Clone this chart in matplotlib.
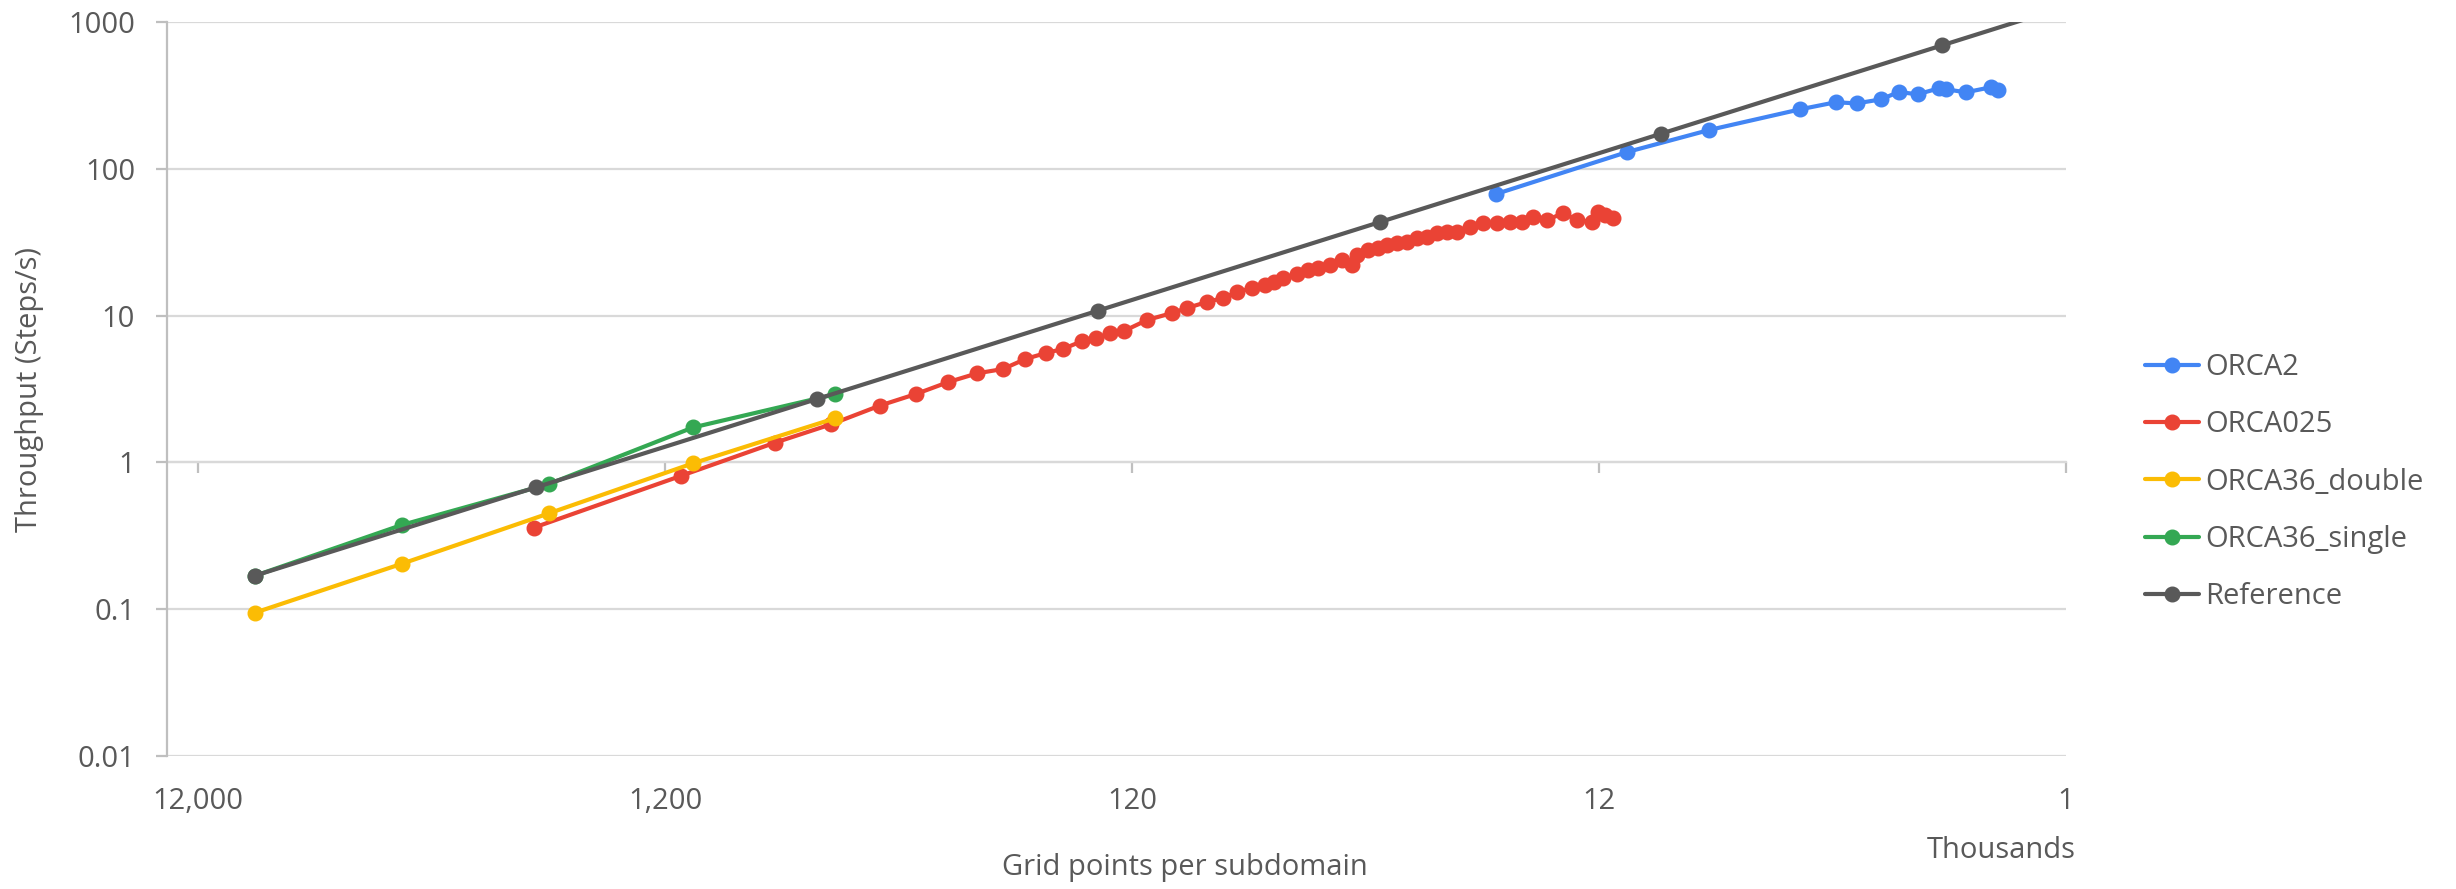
import matplotlib
matplotlib.use("Agg")
import matplotlib.pyplot as plt
from matplotlib.ticker import FixedLocator, FixedFormatter, NullLocator

plt.rcParams['font.family'] = ['Open Sans', 'DejaVu Sans']

# grid points per subdomain (thousands) and throughput (steps/s)
orca2_x = [19.95, 10.44, 6.97, 4.456, 3.736, 3.37, 2.99, 2.738, 2.494, 2.248, 2.169, 1.965, 1.74, 1.676]
orca2_y = [67.3, 130.1, 183.8, 254, 284, 279, 297, 333.5, 321.8, 353, 348, 332, 359, 344]

orca025_x = [2293, 1111, 697.8, 529.2, 416.6, 348.0, 296.6, 257.3, 226.7, 202.9,
             183.4, 168.8, 153.8, 143.3, 133.8, 124.8, 111.4, 98.5, 91.5, 82.9,
             76.6, 71.5, 66.4, 62.3, 59.6, 57.0, 53.2, 50.4, 48.0, 45.2,
             42.6, 40.6, 39.6, 37.5, 35.7, 34.1, 32.5, 30.9, 29.4, 28.0,
             26.7, 25.4, 24.2, 22.7, 21.3, 19.8, 18.6, 17.5, 16.6, 15.5,
             14.3, 13.4, 12.4, 12.06, 11.65, 11.2]
orca025_y = [0.359, 0.808, 1.362, 1.817, 2.433, 2.924, 3.529, 4.045, 4.327, 5.063,
             5.563, 5.922, 6.681, 7.004, 7.575, 7.856, 9.333, 10.41, 11.27, 12.38,
             13.18, 14.48, 15.42, 16.16, 16.94, 18.04, 19.20, 20.45, 21.10, 22.12,
             23.91, 22.12, 25.87, 27.98, 28.87, 30.26, 31.23, 31.72, 33.78, 34.31,
             36.53, 37.11, 37.1, 40.13, 42.73, 42.7, 43.4, 43.4, 46.96, 44.8,
             50.0, 44.8, 43.4, 50.8, 48.4, 46.2]

orca36_double_x = [9060, 4390, 2126, 1045, 519]
orca36_double_y = [0.0947, 0.204, 0.450, 0.986, 1.996]

orca36_single_x = [9060, 4390, 2126, 1045, 519]
orca36_single_y = [0.169, 0.375, 0.713, 1.73, 2.91]

reference_x = [9060, 2265, 566, 141.6, 35.4, 8.85, 2.21, 0.553]
reference_y = [0.1692, 0.677, 2.708, 10.83, 43.3, 173.2, 693.7, 2772]

series_names = ["ORCA2", "ORCA025", "ORCA36_double", "ORCA36_single", "Reference"]
series_colors = ["#4285F4", "#EA4335", "#FBBC04", "#34A853", "#595959"]

x_ticks = [12000, 1200, 120, 12, 1.2]
x_tick_labels = ["12,000", "1,200", "120", "12", "1"]
y_ticks = [0.01, 0.1, 1, 10, 100, 1000]
y_tick_labels = ["0.01", "0.1", "1", "10", "100", "1000"]

TEXT = "#595959"
GRID = "#D9D9D9"
AXIS = "#BFBFBF"
FS = 21

W, H = 2456, 889
fig = plt.figure(figsize=(W / 100, H / 100), dpi=100)
ax = fig.add_axes([167 / W, 1 - 756 / H, (2066 - 167) / W, (756 - 22) / H])

all_x = [orca2_x, orca025_x, orca36_double_x, orca36_single_x, reference_x]
all_y = [orca2_y, orca025_y, orca36_double_y, orca36_single_y, reference_y]
for xs, ys, name, col in zip(all_x, all_y, series_names, series_colors):
    ax.plot(xs, ys, color=col, lw=3.0, marker="o", ms=10.5, mec=col, mfc=col,
            label=name, solid_capstyle="round")

ax.set_xscale("log")
ax.set_yscale("log")
ax.set_xlim(13980, 1.2)
ax.set_ylim(0.01, 1000)

ax.xaxis.set_major_locator(FixedLocator(x_ticks))
ax.xaxis.set_major_formatter(FixedFormatter(x_tick_labels))
ax.xaxis.set_minor_locator(NullLocator())
ax.yaxis.set_major_locator(FixedLocator(y_ticks))
ax.yaxis.set_major_formatter(FixedFormatter(y_tick_labels))
ax.yaxis.set_minor_locator(NullLocator())

ax.grid(axis="y", color=GRID, lw=1.6)
ax.set_axisbelow(True)
for s in ["top", "right", "bottom"]:
    ax.spines[s].set_visible(False)
ax.spines["left"].set_color(AXIS)
ax.spines["left"].set_linewidth(1.6)

ax.tick_params(axis="x", length=0, pad=22, labelsize=FS, labelcolor=TEXT)
ax.tick_params(axis="y", length=8, width=1.6, color=AXIS, pad=15, labelsize=FS, labelcolor=TEXT)

# horizontal axis line crosses at y = 1
sec = ax.secondary_xaxis(0.4)
sec.xaxis.set_major_locator(FixedLocator(x_ticks))
sec.xaxis.set_minor_locator(NullLocator())
sec.tick_params(axis="x", length=8, width=1.6, color=AXIS, labelbottom=False, labeltop=False)
sec.spines["bottom"].set_color(GRID)
sec.spines["bottom"].set_linewidth(1.6)

fig.text(30 / W, 1 - 389 / H, "Throughput (Steps/s)", rotation=90, ha="center", va="center",
         fontsize=FS, color=TEXT)
fig.text(1185 / W, 1 - 868 / H, "Grid points per subdomain", ha="center", va="center",
         fontsize=FS, color=TEXT)
fig.text(2001 / W, 1 - 850 / H, "Thousands", ha="center", va="center", fontsize=FS, color=TEXT)

leg = fig.legend(loc="upper left", bbox_to_anchor=(2145 / W, 1 - 353 / H), frameon=False,
                 fontsize=FS, handlelength=1.85, handletextpad=0.2, labelspacing=0.97,
                 borderpad=0, borderaxespad=0, markerscale=1.0)
for t in leg.get_texts():
    t.set_color(TEXT)

fig.savefig("out.png", dpi=100)
